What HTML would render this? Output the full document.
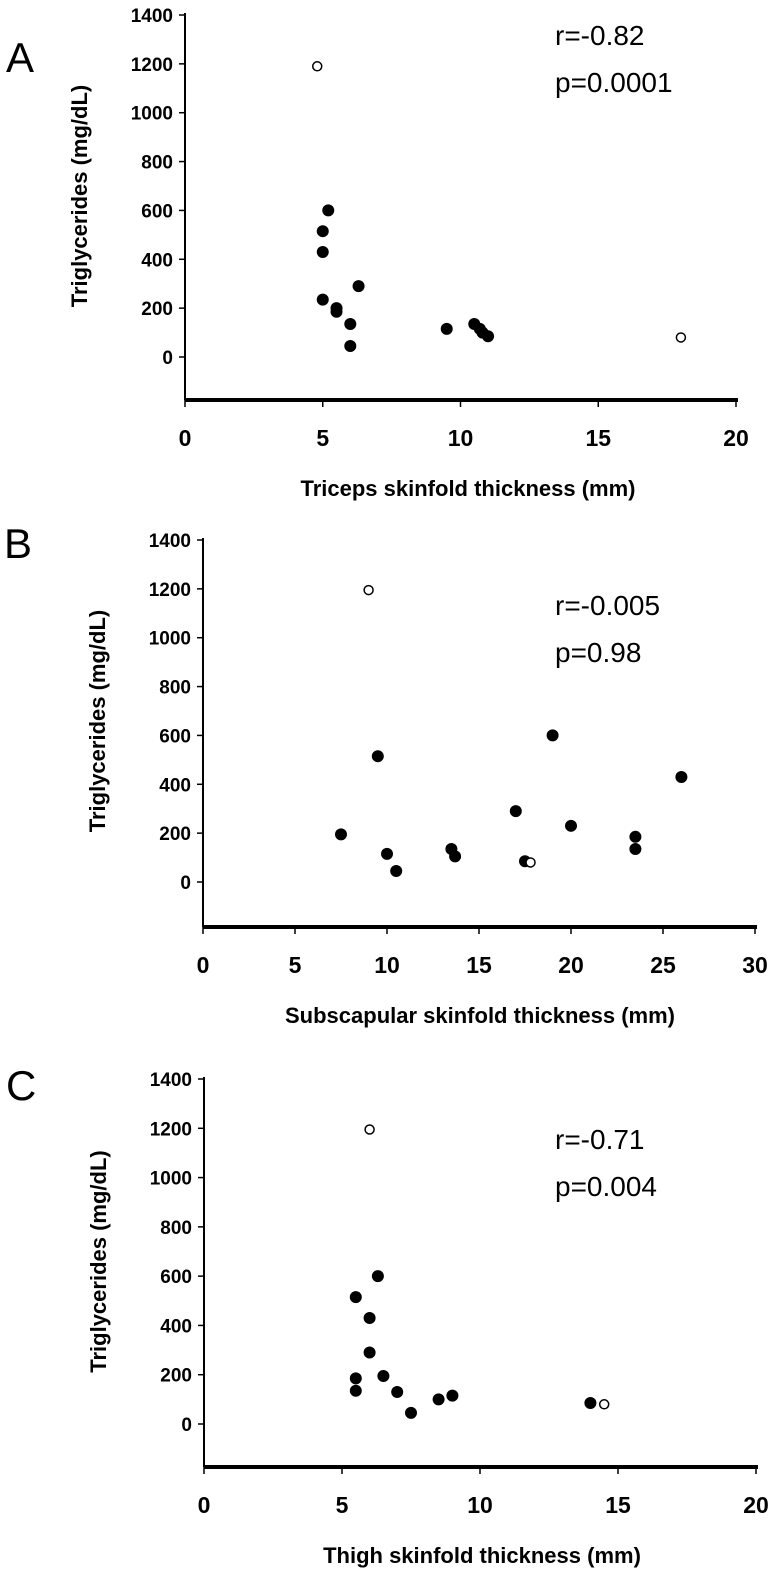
<!DOCTYPE html>
<html><head><meta charset="utf-8">
<style>
body{margin:0;background:#fff;}
svg{display:block;}
text{font-family:"Liberation Sans",Arial,sans-serif;}
.tick{font-weight:bold;font-size:19px;}
.ttl{font-weight:bold;font-size:22px;}
.stat{font-size:28px;}
.lab{font-size:42px;}
</style></head>
<body>
<svg id="chart" width="773" height="1575" viewBox="0 0 773 1575" xmlns="http://www.w3.org/2000/svg"></svg>
<script>
const yTicks = [0,200,400,600,800,1000,1200,1400];
const xTicksA = [0,5,10,15,20];
const xTicksB = [0,5,10,15,20,25,30];
const xTicksC = [0,5,10,15,20];
const aFilledX = [5.2,5,5,6.3,5,5.5,5.5,6,6,9.5,10.5,10.7,10.8,11];
const aFilledY = [600,515,430,290,235,200,185,135,45,115,135,115,100,85];
const aOpenX = [4.8,18];
const aOpenY = [1190,80];
const bFilledX = [9.5,7.5,10,10.5,13.5,13.7,17.5,17,19,20,23.5,23.5,26];
const bFilledY = [515,195,115,45,135,105,85,290,600,230,185,135,430];
const bOpenX = [9,17.8];
const bOpenY = [1195,80];
const cFilledX = [6.3,5.5,6,6,6.5,5.5,5.5,7,7.5,8.5,9,14];
const cFilledY = [600,515,430,290,195,185,135,130,45,100,115,85];
const cOpenX = [6,14.5];
const cOpenY = [1195,80];

const svg = document.getElementById('chart');
const NS = 'http://www.w3.org/2000/svg';
function mk(tag, attrs, parent){
  const e = document.createElementNS(NS, tag);
  for (const k in attrs) e.setAttribute(k, attrs[k]);
  (parent||svg).appendChild(e);
  return e;
}
function panel(p){
  const g = mk('g', {});
  
  
  const xMax = p.xTicks[p.xTicks.length-1];
  const sx = v => p.x0 + (p.x1 - p.x0) * v / xMax;
  const sy = v => p.y0 - (p.y0 - p.y1400) * v / 1400;
  const L = mk('text', {x:p.lx, y:p.ly, class:'lab'}, g);
  L.textContent = p.id;
  
  
  const ya = mk('line', {x1:p.x0, y1:p.y1400-2, x2:p.x0, y2:p.axisY, stroke:'#000', 'stroke-width':2}, g);
  
  
  yTicks.forEach(t => {
    mk('line', {x1:p.x0-6, y1:sy(t), x2:p.x0, y2:sy(t), stroke:'#000', 'stroke-width':1.5}, g);
    const tx = mk('text', {x:p.x0-12, y:sy(t)+7, 'text-anchor':'end', class:'tick'}, g);
    tx.textContent = t;
    
    
  });
  const xa = mk('line', {x1:p.x0, y1:p.axisY, x2:p.x1+2, y2:p.axisY, stroke:'#000', 'stroke-width':4}, g);
  
  
  p.xTicks.forEach(t => {
    mk('line', {x1:sx(t), y1:p.axisY, x2:sx(t), y2:p.axisY+7, stroke:'#000', 'stroke-width':1.5}, g);
    const tx = mk('text', {x:sx(t), y:p.axisY+46, 'text-anchor':'middle', class:'tick', style:'font-size:23px'}, g);
    tx.textContent = t;
    
    
  });
  const xt = mk('text', {x:p.xtX, y:p.axisY+96, 'text-anchor':'middle', class:'ttl'}, g);
  xt.textContent = p.xTitle;
  
  
  const cy = (p.y1400 + p.y0)/2 + 10;
  const yt = mk('text', {x:0, y:0, 'text-anchor':'middle', class:'ttl', transform:'translate('+(p.x0-98)+','+cy+') rotate(-90)'}, g);
  yt.textContent = 'Triglycerides (mg/dL)';
  
  
  const r = mk('text', {x:555, y:p.y1400+p.rOff, class:'stat'}, g);
  r.textContent = p.r;
  
  
  const pv = mk('text', {x:555, y:p.y1400+p.rOff+47, class:'stat'}, g);
  pv.textContent = p.p;
  
  
  p.fx.forEach((v,i) => {
    const c = mk('circle', {cx:sx(v), cy:sy(p.fy[i]), r:6, fill:'#000'}, g);
    
    
  });
  p.ox.forEach((v,i) => {
    const c = mk('circle', {cx:sx(v), cy:sy(p.oy[i]), r:4.5, fill:'#fff', stroke:'#000', 'stroke-width':1.5}, g);
    
    
  });
}
panel({id:'A', x0:185, x1:736, y0:357, y1400:15, axisY:400, lx:6, ly:72, xTicks:xTicksA,
  xTitle:'Triceps skinfold thickness (mm)', xtX:468, r:'r=-0.82', p:'p=0.0001', rOff:30,
  fx:aFilledX, fy:aFilledY, ox:aOpenX, oy:aOpenY});
panel({id:'B', x0:203, x1:755, y0:882, y1400:540, axisY:927, lx:4, ly:558, xTicks:xTicksB,
  xTitle:'Subscapular skinfold thickness (mm)', xtX:480, r:'r=-0.005', p:'p=0.98', rOff:75,
  fx:bFilledX, fy:bFilledY, ox:bOpenX, oy:bOpenY});
panel({id:'C', x0:204, x1:756, y0:1424, y1400:1079, axisY:1467, lx:6, ly:1100, xTicks:xTicksC,
  xTitle:'Thigh skinfold thickness (mm)', xtX:482, r:'r=-0.71', p:'p=0.004', rOff:70,
  fx:cFilledX, fy:cFilledY, ox:cOpenX, oy:cOpenY});
</script>
</body></html>
